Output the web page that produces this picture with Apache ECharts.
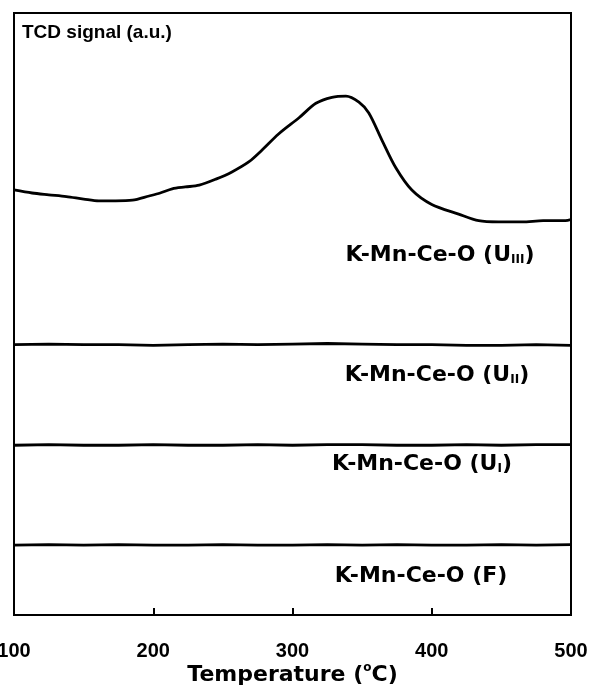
<!DOCTYPE html>
<html>
<head>
<meta charset="utf-8">
<script src="https://cdn.jsdelivr.net/npm/echarts@6/dist/echarts.min.js"></script>
<style>html,body{margin:0;padding:0;background:#fff;}#c{width:595px;height:689px;}</style>
</head>
<body>
<div id="c"></div>
<script>
// Temperature (°C) and TCD signal (a.u.)
const tempU3 = [100,113,125,137.6,150,161,173,185,197,205,213.6,223,233,245,256.5,268.8,278,290,304.7,316.8,328.3,338.4,347.7,354.8,364.2,374.2,385.7,400,419.3,433.7,448,465,480,496,500];
const sigU3  = [70.6,70.1,69.8,69.5,69.1,68.8,68.8,68.9,69.6,70.1,70.8,71.1,71.4,72.4,73.6,75.3,77.2,79.9,82.6,85.0,86.0,86.2,85.2,83.4,78.9,74.3,70.6,68.2,66.6,65.5,65.3,65.3,65.5,65.5,65.7];
const tempBase = [100,125,150,175,200,225,250,275,300,325,350,375,400,425,450,475,500];
const sigU2 = [44.9,45.0,44.9,44.9,44.8,44.9,45.0,44.9,45.0,45.1,45.0,44.9,44.9,44.8,44.8,44.9,44.8];
const sigU1 = [28.2,28.3,28.2,28.2,28.3,28.2,28.2,28.3,28.2,28.3,28.3,28.2,28.2,28.3,28.2,28.3,28.3];
const sigF  = [11.6,11.7,11.6,11.7,11.6,11.6,11.7,11.6,11.6,11.7,11.6,11.7,11.6,11.6,11.7,11.6,11.7];
const xTicks = [100,200,300,400,500];
const sampleNames = ['K-Mn-Ce-O (U', 'K-Mn-Ce-O (U', 'K-Mn-Ce-O (U', 'K-Mn-Ce-O (F)'];
const sampleSubs = ['III', 'II', 'I', ''];

const pair = (xs, ys) => xs.map((x, i) => [x, ys[i]]);
const lineSeries = (d, sm) => ({type:'line', data:d, showSymbol:false, smooth:sm,
  lineStyle:{color:'#000', width:2.8}, silent:true});

const labelFont = 'DejaVu Sans';
const rich = {
  n:{fontFamily:labelFont, fontWeight:'bold', fontSize:22, color:'#000', lineHeight:26, verticalAlign:'bottom'},
  s:{fontFamily:labelFont, fontWeight:'bold', fontSize:12, color:'#000', lineHeight:20, verticalAlign:'bottom'}
};
function sampleText(i){
  return sampleSubs[i] ? '{n|' + sampleNames[i] + '}{s|' + sampleSubs[i] + '}{n|)}' : '{n|' + sampleNames[i] + '}';
}
const labelPos = [[440,253],[437,373],[422,462],[421,574]];

const chart = echarts.init(document.getElementById('c'), null, {renderer:'canvas'});
chart.setOption({
  animation:false,
  backgroundColor:'#fff',
  grid:{left:14, right:24, top:13, bottom:74, containLabel:false, outerBoundsMode:'none',
    show:true, borderColor:'#000', borderWidth:2, backgroundColor:'transparent'},
  xAxis:{type:'value', min:100, max:500, interval:100,
    axisLine:{show:true, lineStyle:{color:'#000', width:2}},
    axisTick:{show:true, inside:true, length:7, lineStyle:{color:'#000', width:2}},
    axisLabel:{color:'#000', fontFamily:'Liberation Sans', fontWeight:'bold', fontSize:20, margin:26,
      formatter:(v)=> xTicks.includes(v) ? String(v) : ''},
    splitLine:{show:false},
    name:'Temperature ({sup|o}C)', nameLocation:'middle', nameGap:47, nameMoveOverlap:false,
    nameTextStyle:{fontFamily:labelFont, fontWeight:'bold', fontSize:22, color:'#000',
      rich:{sup:{fontFamily:labelFont, fontWeight:'bold', fontSize:12, color:'#000', verticalAlign:'top', lineHeight:26}}}
  },
  yAxis:{type:'value', min:0, max:100, show:false, splitLine:{show:false}},
  series:[
    lineSeries(pair(tempU3, sigU3), 0.3),
    lineSeries(pair(tempBase, sigU2), false),
    lineSeries(pair(tempBase, sigU1), false),
    lineSeries(pair(tempBase, sigF), false)
  ],
  graphic:[
    {type:'text', left:22, top:23, style:{text:'TCD signal (a.u.)', fontFamily:'Liberation Sans', fontWeight:'bold', fontSize:19, fill:'#000'}},
    ...labelPos.map((p,i)=>({type:'text', x:p[0], y:p[1],
      style:{text:sampleText(i), rich:rich, align:'center', verticalAlign:'middle', fill:'#000'}}))
  ]
});
</script>
</body>
</html>
